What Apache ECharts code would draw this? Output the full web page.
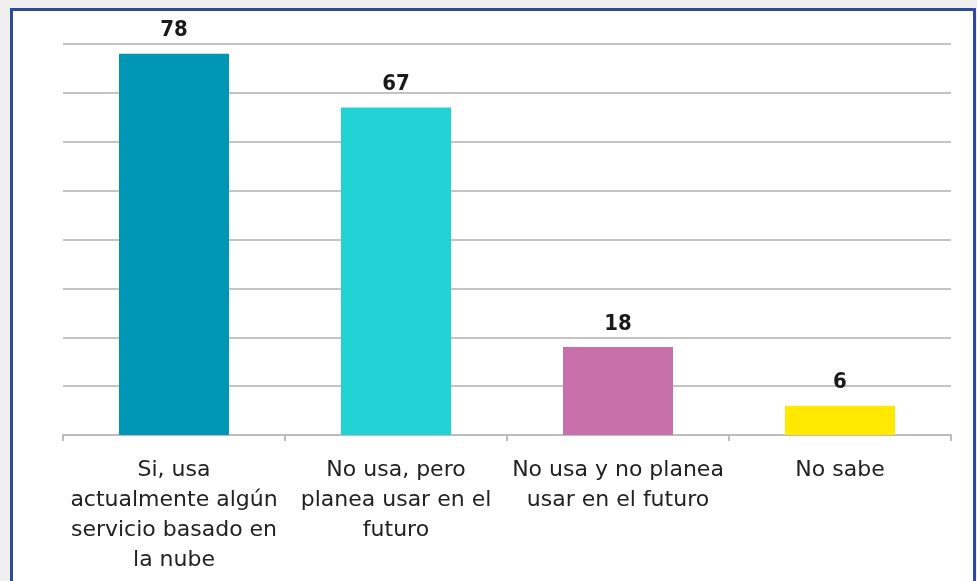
<!DOCTYPE html>
<html>
<head>
<meta charset="utf-8">
<script src="https://cdn.jsdelivr.net/npm/echarts@6/dist/echarts.min.js"></script>
<style>
html,body{margin:0;padding:0;background:#efefef;}
#chart{width:977px;height:581px;}
</style>
</head>
<body>
<div id="chart"></div>
<script>
var categories = [
  "Si, usa\nactualmente algún\nservicio basado en\nla nube",
  "No usa, pero\nplanea usar en el\nfuturo",
  "No usa y no planea\nusar en el futuro",
  "No sabe"
];
var values = [78, 67, 18, 6];
var colors = ["#0096B5", "#22D3D6", "#C870A9", "#FFE900"];

var chart = echarts.init(document.getElementById('chart'));
chart.setOption({
  backgroundColor: '#efefef',
  animation: false,
  graphic: [{
    type: 'rect',
    z: -10,
    shape: {x: 11.5, y: 9.5, width: 963, height: 600},
    style: {fill: '#ffffff', stroke: '#2D4A9C', lineWidth: 3}
  }],
  grid: {left: 63, right: 26, top: 44, bottom: 146, containLabel: false},
  xAxis: {
    type: 'category',
    data: categories,
    axisLine: {lineStyle: {color: '#bdbdbd', width: 2}},
    axisTick: {show: true, length: 6, lineStyle: {color: '#bdbdbd', width: 2}},
    axisLabel: {
      interval: 0,
      margin: 20,
      fontFamily: 'DejaVu Sans',
      fontSize: 22,
      lineHeight: 30,
      color: '#222222'
    }
  },
  yAxis: {
    type: 'value',
    min: 0,
    max: 80,
    interval: 10,
    axisLabel: {show: false},
    axisLine: {show: false},
    axisTick: {show: false},
    splitLine: {lineStyle: {color: '#c4c4c4', width: 2}}
  },
  series: [{
    type: 'bar',
    barWidth: 110,
    data: values.map(function (v, i) {
      return {value: v, itemStyle: {color: colors[i]}};
    }),
    label: {
      show: true,
      position: 'top',
      distance: 12,
      fontFamily: 'DejaVu Sans Condensed',
      fontSize: 22,
      fontWeight: 'bold',
      color: '#1a1a1a'
    }
  }]
});
</script>
</body>
</html>
